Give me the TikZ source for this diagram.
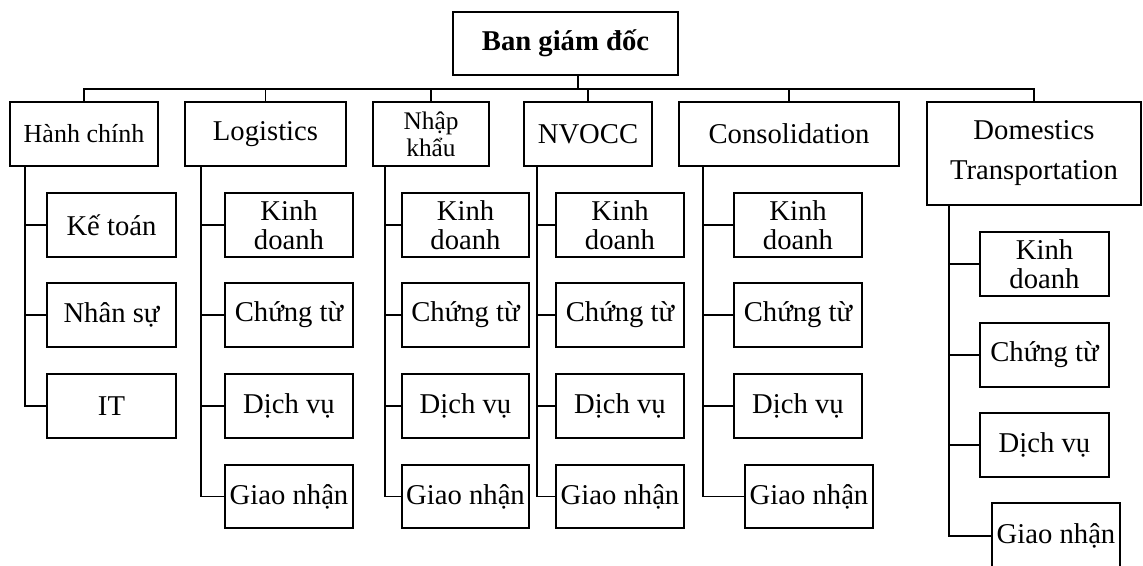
\documentclass[tikz,border=0pt]{standalone}
\usepackage{fontspec}
\setmainfont{Liberation Serif}
\tikzset{
  ob/.style={draw, line width=1.25pt, inner sep=0pt, align=center, font=\fontsize{21.5}{21.5}\selectfont},
  ln/.style={line width=1.25pt},
}
\newcommand\orgbox[7][]{\node[ob,#1, minimum width={(#4-#2)*0.75pt}, minimum height={(#5-#3)*0.75pt}] (#6) at ({(#2+#4)/2},{(#3+#5)/2}) {#7};}
\begin{document}
\begin{tikzpicture}[x=0.75pt,y=-0.75pt]
\useasboundingbox (0,0) rectangle (1143,565);
% top
\orgbox[font=\fontsize{21.5}{21.5}\selectfont\bfseries]{453}{12}{678}{75}{top}{Ban giám đốc}
% level 1
\orgbox[font=\fontsize{19.5}{20}\selectfont]{10}{102}{158}{166}{hc}{Hành chính}
\orgbox{185}{102}{346}{166}{lg}{Logistics}
\orgbox[font=\fontsize{19}{20.5}\selectfont]{373}{102}{489}{166}{nk}{Nhập\\khẩu}
\orgbox{524}{102}{652}{166}{nv}{NVOCC}
\orgbox{679}{102}{899}{166}{cs}{Consolidation}
\orgbox[font=\fontsize{21.5}{30}\selectfont]{927}{102}{1141}{205}{dt}{Domestics\\Transportation}
% Hanh chinh children
\orgbox{47}{193}{176}{257}{hc1}{Kế toán}
\orgbox{47}{283}{176}{347}{hc2}{Nhân sự}
\orgbox{47}{374}{176}{438}{hc3}{IT}
% Logistics children
\orgbox{225}{193}{353}{257}{lg1}{Kinh\\doanh}
\orgbox{225}{283}{353}{347}{lg2}{Chứng từ}
\orgbox{225}{374}{353}{438}{lg3}{Dịch vụ}
\orgbox{225}{465}{353}{528}{lg4}{Giao nhận}
% Nhap khau children
\orgbox{402}{193}{529}{257}{nk1}{Kinh\\doanh}
\orgbox{402}{283}{529}{347}{nk2}{Chứng từ}
\orgbox{402}{374}{529}{438}{nk3}{Dịch vụ}
\orgbox{402}{465}{529}{528}{nk4}{Giao nhận}
% NVOCC children
\orgbox{556}{193}{684}{257}{nv1}{Kinh\\doanh}
\orgbox{556}{283}{684}{347}{nv2}{Chứng từ}
\orgbox{556}{374}{684}{438}{nv3}{Dịch vụ}
\orgbox{556}{465}{684}{528}{nv4}{Giao nhận}
% Consolidation children
\orgbox{734}{193}{862}{257}{cs1}{Kinh\\doanh}
\orgbox{734}{283}{862}{347}{cs2}{Chứng từ}
\orgbox{734}{374}{862}{438}{cs3}{Dịch vụ}
\orgbox{745}{465}{873}{528}{cs4}{Giao nhận}
% Domestics children
\orgbox{980}{232}{1109}{296}{dt1}{Kinh\\doanh}
\orgbox{980}{323}{1109}{387}{dt2}{Chứng từ}
\orgbox{980}{413}{1109}{477}{dt3}{Dịch vụ}
\orgbox{992}{503}{1120}{569}{dt4}{Giao nhận}
% connectors top
\coordinate (bar) at (0,89);
\coordinate (topc) at (578,0);
\draw[ln] (top.south -| topc) -- (bar -| topc);
\draw[ln] (hc.north) -- (hc.north |- bar) -- (dt.north |- bar) -- (dt.north);
\foreach \n in {lg,nk,nv,cs} \draw[ln] (\n.north) -- (\n.north |- bar);
% trunks
\coordinate (hct) at (25,0);
\coordinate (lgt) at (201,0);
\coordinate (nkt) at (385,0);
\coordinate (nvt) at (537,0);
\coordinate (cst) at (703,0);
\coordinate (dtt) at (949,0);
\draw[ln] (hc.south -| hct) |- (hc3.west);
\foreach \c in {hc1,hc2} \draw[ln] (\c.west) -- (\c.west -| hct);
\foreach \p in {lg,nk,nv,cs,dt}{
  \draw[ln] (\p.south -| \p t) |- (\p 4.west);
  \foreach \i in {1,2,3} \draw[ln] (\p\i.west) -- (\p\i.west -| \p t);
}
\end{tikzpicture}
\end{document}
